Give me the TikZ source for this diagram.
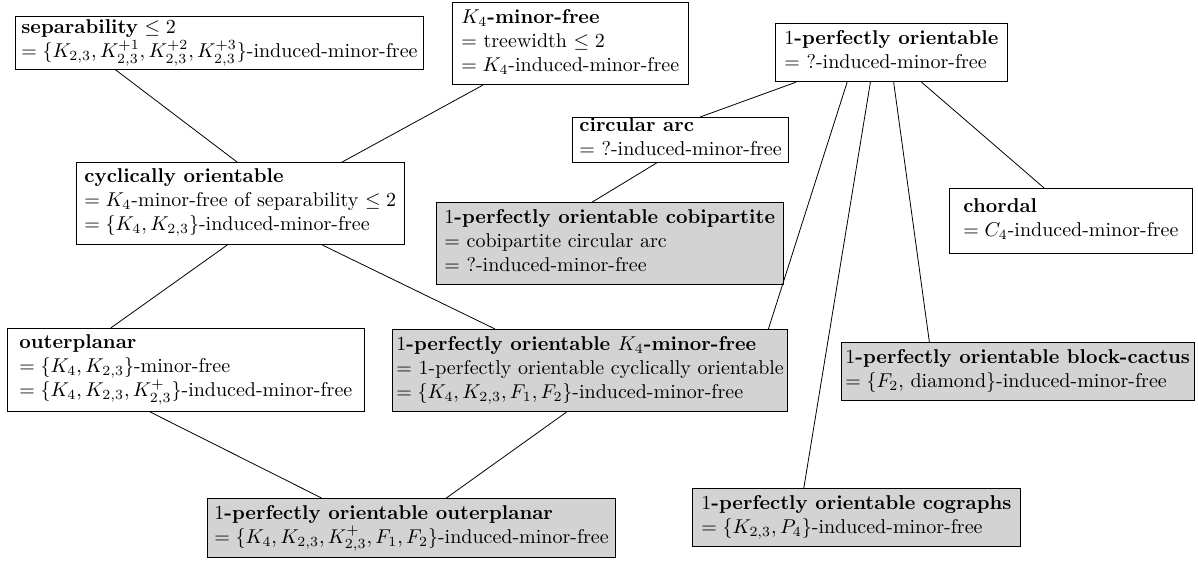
\documentclass[tikz,border=0pt]{standalone}
\usetikzlibrary{calc}
\definecolor{Shade}{HTML}{D3D3D3}

\begin{document}
\begin{tikzpicture}[x=0.5pt,y=-0.5pt,
    cls/.style={draw,align=left,anchor=north west,inner xsep=2pt,inner ysep=3.3pt,
      execute at begin node=\strut,execute at end node=\strut},
    solved/.style={cls,fill=Shade}]
  \useasboundingbox (0,0) rectangle (1198,563);
  % top row
  \node[cls,inner ysep=1.7pt,inner xsep=3pt] (sep) at (15,16)
    {\textbf{separability} $\leq 2$\\
     $=\{K_{2,3},K_{2,3}^{+1},K_{2,3}^{+2},K_{2,3}^{+3}\}$-induced-minor-free};
  \node[cls,inner xsep=4.5pt] (kfour) at (452,2)
    {$K_4$\textbf{-minor-free}\\
     $=$ treewidth $\leq 2$\\
     $=K_4$-induced-minor-free};
  \node[cls,inner xsep=4.5pt] (opo) at (775,23)
    {$1$\textbf{-perfectly orientable}\\
     $=$ ?-induced-minor-free};
  % middle rows
  \node[cls,inner ysep=0pt,inner xsep=3.5pt] (arc) at (572,117)
    {\textbf{circular arc}\\
     $=$ ?-induced-minor-free};
  \node[cls,inner xsep=4pt] (cyc) at (76,162)
    {\textbf{cyclically orientable}\\
     $=K_4$-minor-free of separability $\leq 2$\\
     $=\{K_4,K_{2,3}\}$-induced-minor-free};
  \node[solved,inner xsep=4pt] (cobip) at (436,202)
    {$1$\textbf{-perfectly orientable cobipartite}\\
     $=$ cobipartite circular arc\\
     $=$ ?-induced-minor-free};
  \node[cls,inner xsep=7pt,inner ysep=5pt] (chordal) at (949,188)
    {\textbf{chordal}\\
     $=C_4$-induced-minor-free};
  \node[cls,inner xsep=6pt] (outer) at (7,328)
    {\textbf{outerplanar}\\
     $=\{K_4,K_{2,3}\}$-minor-free\\
     $=\{K_4,K_{2,3},K_{2,3}^+\}$-induced-minor-free};
  \node[solved] (opokfour) at (392,329)
    {$1$\textbf{-perfectly orientable $K_4$-minor-free}\\
     $=$ 1-perfectly orientable cyclically orientable\\
     $=\{K_4,K_{2,3},F_1,F_2\}$-induced-minor-free};
  \node[solved] (cactus) at (841,342)
    {$1$\textbf{-perfectly orientable block-cactus}\\
     $=\{F_2,$ diamond$\}$-induced-minor-free};
  % bottom row
  \node[solved,inner xsep=3.5pt] (opoouter) at (207,498)
    {$1$\textbf{-perfectly orientable outerplanar}\\
     $=\{K_4,K_{2,3},K_{2,3}^+,F_1,F_2\}$-induced-minor-free};
  \node[solved,inner xsep=4.5pt] (cograph) at (692,488)
    {$1$\textbf{-perfectly orientable cographs}\\
     $=\{K_{2,3},P_4\}$-induced-minor-free};
  % inclusions
  \foreach \a/\p/\b/\q in {sep/0.245/cyc/0.49, kfour/0.13/cyc/0.81,
      opo/0.09/arc/0.59, opo/0.63/chordal/0.39, opo/0.31/opokfour/0.95,
      opo/0.51/cactus/0.25, opo/0.41/cograph/0.34, arc/0.39/cobip/0.45,
      cyc/0.46/outer/0.29, cyc/0.75/opokfour/0.26,
      outer/0.4/opoouter/0.28, opokfour/0.44/opoouter/0.585}
    \draw ($(\a.south west)!\p!(\a.south east)$) -- ($(\b.north west)!\q!(\b.north east)$);
\end{tikzpicture}
\end{document}
